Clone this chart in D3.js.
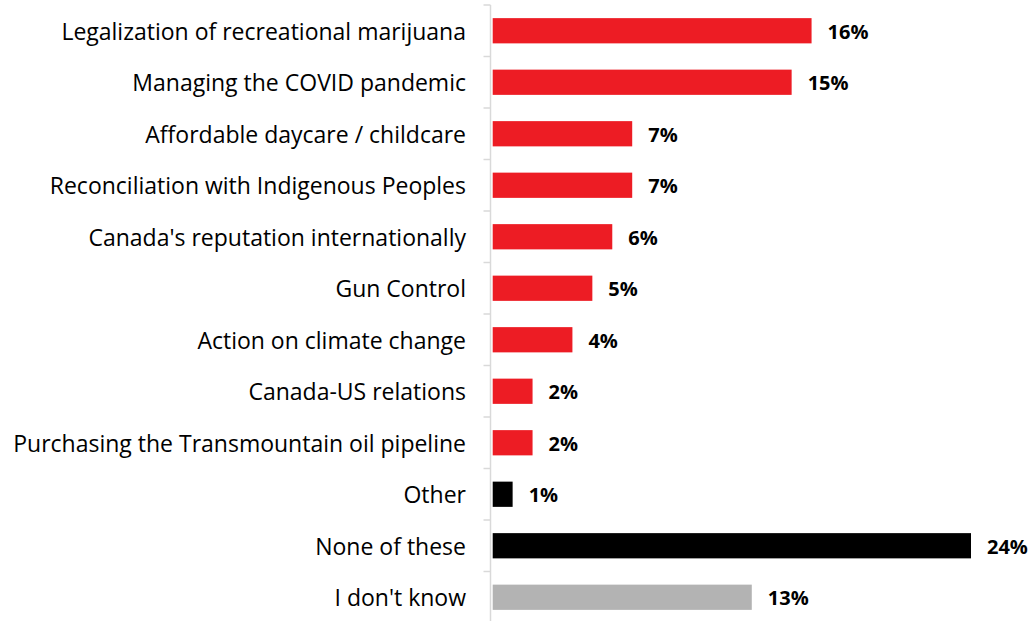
<!DOCTYPE html>
<html><head><meta charset="utf-8">
<script src="https://cdn.jsdelivr.net/npm/d3@7"></script>
<style>body{margin:0;background:#fff}svg{display:block}</style>
</head><body>
<svg id="c" width="1028" height="621"></svg>
<script>
const categories = ["Legalization of recreational marijuana","Managing the COVID pandemic","Affordable daycare / childcare","Reconciliation with Indigenous Peoples","Canada's reputation internationally","Gun Control","Action on climate change","Canada-US relations","Purchasing the Transmountain oil pipeline","Other","None of these","I don't know"];
const values = [16,15,7,7,6,5,4,2,2,1,24,13];
const groups = ["issue","issue","issue","issue","issue","issue","issue","issue","issue","other","none","dk"];
const colorMap = {issue:"#ED1C24", other:"#000000", none:"#000000", dk:"#B3B3B3"};

const svg = d3.select("#c");
const x0 = 492.7, axisX = 490.5;
const x = d3.scaleLinear().domain([0,24]).range([x0, 971]);
const y = d3.scaleBand().domain(categories).range([5, 623]).paddingInner(0.51).paddingOuter(0.255);
const yb = d3.scaleBand().domain(categories).range([5, 623]);

const ag = svg.append("g");
ag.append("line").attr("x1",axisX).attr("x2",axisX).attr("y1",5).attr("y2",623).attr("stroke","#d9d9d9").attr("stroke-width",1.5);
const tickYs = categories.map(c=>yb(c)).concat([623]);
ag.selectAll("line.t").data(tickYs).join("line").attr("class","t")
  .attr("x1",axisX-7).attr("x2",axisX).attr("y1",d=>d).attr("y2",d=>d)
  .attr("stroke","#d9d9d9").attr("stroke-width",1.5);

const data = categories.map((c,i)=>({c, v:values[i], g:groups[i]}));
svg.selectAll("rect.b").data(data).join("rect").attr("class","b")
  .attr("x",x(0)).attr("y",d=>y(d.c)).attr("width",d=>x(d.v)-x(0)).attr("height",y.bandwidth())
  .attr("fill",d=>colorMap[d.g]);

svg.selectAll("text.v").data(data).join("text").attr("class","v")
  .attr("x",d=>x(d.v)+16).attr("y",d=>y(d.c)+y.bandwidth()/2+1).attr("dy","0.35em")
  .attr("font-family","'Open Sans', sans-serif").attr("font-weight","bold").attr("font-size",20)
  .attr("fill","#000").text(d=>d.v+"%");

svg.selectAll("text.l").data(data).join("text").attr("class","l")
  .attr("x",466).attr("y",d=>y(d.c)+y.bandwidth()/2+1).attr("dy","0.35em").attr("text-anchor","end")
  .attr("font-family","'Open Sans', sans-serif").attr("font-size",23)
  .attr("fill","#000").text(d=>d.c);
</script>
</body></html>
